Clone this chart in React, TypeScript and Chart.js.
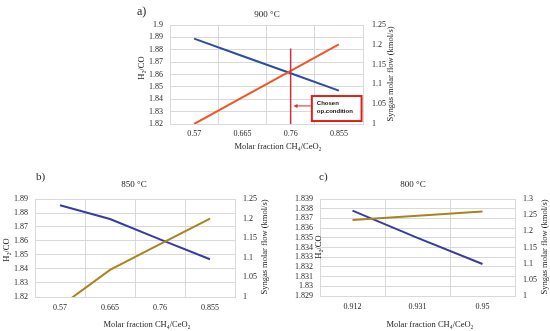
import { useEffect, useRef } from "react";
import { Chart, registerables } from "chart.js";

Chart.register(...registerables);

// ---------- data ----------
const X_A = ["0.57", "0.665", "0.76", "0.855"];
const H2CO_A = [1.889, 1.875, 1.861, 1.847];
const FLOW_A = [1.0, 1.067, 1.134, 1.201];
const LEFT_TICKS_A = [1.82, 1.83, 1.84, 1.85, 1.86, 1.87, 1.88, 1.89, 1.9];
const RIGHT_TICKS_A = [1, 1.05, 1.1, 1.15, 1.2, 1.25];
const CHOSEN_X = "0.76";
const CHOSEN_LINE_Y = [1.82, 1.881];

const X_B = ["0.57", "0.665", "0.76", "0.855"];
const H2CO_B = [1.8855, 1.8757, 1.8612, 1.847];
const FLOW_B = [0.976, 1.069, 1.135, 1.2];
const LEFT_TICKS_B = [1.82, 1.83, 1.84, 1.85, 1.86, 1.87, 1.88, 1.89];
const RIGHT_TICKS_B = [1, 1.05, 1.1, 1.15, 1.2, 1.25];

const X_C = ["0.912", "0.931", "0.95"];
const H2CO_C = [1.8378, 1.835, 1.8323];
const FLOW_C = [1.235, 1.248, 1.261];
const LEFT_TICKS_C = [1.829, 1.83, 1.831, 1.832, 1.833, 1.834, 1.835, 1.836, 1.837, 1.838, 1.839];
const RIGHT_TICKS_C = [1, 1.05, 1.1, 1.15, 1.2, 1.25, 1.3];

const TITLE_A = "900 °C";
const TITLE_B = "850 °C";
const TITLE_C = "800 °C";
const Y_TITLE = "H₂/CO";
const Y2_TITLE = "Syngas molar flow (kmol/s)";
const X_TITLE = "Molar fraction CH₄/CeO₂";
const NOTE_LINES = ["Chosen", "op.condition"];

// ---------- styling ----------
const SERIF = '"Liberation Serif", "Times New Roman", serif';
const SANS = '"Liberation Sans", Arial, sans-serif';
const GRID = "#d9d9d9";
const TEXT = "#262626";

type Panel = {
  id: string;
  left: number;
  top: number;
  w: number;
  h: number;
  area: { left: number; right: number; top: number; bottom: number };
  labels: string[];
  h2co: number[];
  flow: number[];
  leftTicks: number[];
  rightTicks: number[];
  blue: string;
  orange: string;
  letter: string;
  letterPos: [number, number, number];
  title: string;
  titlePos: [number, number];
  yTitlePos: [number, number];
  y2TitlePos: [number, number];
  xTitlePos: [number, number];
  xPad: number;
  rPad: number;
  chosen?: boolean;
};

const PANELS: Panel[] = [
  {
    id: "a",
    left: 130,
    top: 0,
    w: 290,
    h: 160,
    area: { left: 40, right: 233, top: 25, bottom: 124 },
    labels: X_A,
    h2co: H2CO_A,
    flow: FLOW_A,
    leftTicks: LEFT_TICKS_A,
    rightTicks: RIGHT_TICKS_A,
    blue: "#2b4ea3",
    orange: "#f2542a",
    letter: "a)",
    letterPos: [7, 12, 12],
    title: TITLE_A,
    titlePos: [137, 15],
    yTitlePos: [12, 68],
    y2TitlePos: [261, 74],
    xTitlePos: [148, 147],
    xPad: 5,
    rPad: 9,
    chosen: true,
  },
  {
    id: "b",
    left: 0,
    top: 170,
    w: 275,
    h: 161,
    area: { left: 35, right: 235, top: 29, bottom: 127 },
    labels: X_B,
    h2co: H2CO_B,
    flow: FLOW_B,
    leftTicks: LEFT_TICKS_B,
    rightTicks: RIGHT_TICKS_B,
    blue: "#3a3aa6",
    orange: "#a8841e",
    letter: "b)",
    letterPos: [36, 7, 11],
    title: TITLE_B,
    titlePos: [134, 15],
    yTitlePos: [7, 80],
    y2TitlePos: [265, 77],
    xTitlePos: [147, 155],
    xPad: 6,
    rPad: 8,
  },
  {
    id: "c",
    left: 275,
    top: 170,
    w: 275,
    h: 161,
    area: { left: 45, right: 240, top: 29, bottom: 126 },
    labels: X_C,
    h2co: H2CO_C,
    flow: FLOW_C,
    leftTicks: LEFT_TICKS_C,
    rightTicks: RIGHT_TICKS_C,
    blue: "#3a3aa6",
    orange: "#a8841e",
    letter: "c)",
    letterPos: [44, 7, 11],
    title: TITLE_C,
    titlePos: [138, 15],
    yTitlePos: [44, 77],
    y2TitlePos: [270, 77],
    xTitlePos: [155, 155],
    xPad: 6,
    rPad: 8,
  },
];

// annotation anchor (category index / left-axis value)
const NOTE_BOX = { x0: 2.44, x1: 3.47, y0: 1.8426, y1: 1.8224 };
const NOTE_ARROW = { from: 2.44, to: 2.06, y: 1.8346 };

const fmt = (v: number) => String(Number(Number(v).toFixed(4)));

function PanelChart({ p }: { p: Panel }) {
  const ref = useRef<HTMLCanvasElement | null>(null);
  useEffect(() => {
    if (!ref.current) return;
    const textPlugin = {
      id: "panelText" + p.id,
      afterDraw(chart: any) {
        const ctx = chart.ctx as CanvasRenderingContext2D;
        ctx.save();
        ctx.fillStyle = TEXT;
        ctx.textBaseline = "middle";
        // letter
        ctx.font = `${p.letterPos[2]}px ${SERIF}`;
        ctx.textAlign = "left";
        ctx.fillText(p.letter, p.letterPos[0], p.letterPos[1]);
        // title
        ctx.font = `9px ${SERIF}`;
        ctx.textAlign = "center";
        ctx.fillText(p.title, p.titlePos[0], p.titlePos[1]);
        // x title
        ctx.font = `8.5px ${SERIF}`;
        ctx.fillText(X_TITLE, p.xTitlePos[0], p.xTitlePos[1]);
        // y title
        ctx.save();
        ctx.translate(p.yTitlePos[0], p.yTitlePos[1]);
        ctx.rotate(-Math.PI / 2);
        ctx.fillText(Y_TITLE, 0, 0);
        ctx.restore();
        // y2 title
        ctx.save();
        ctx.translate(p.y2TitlePos[0], p.y2TitlePos[1]);
        ctx.rotate(-Math.PI / 2);
        ctx.fillText(Y2_TITLE, 0, 0);
        ctx.restore();

        if (p.chosen) {
          const xs = chart.scales.x;
          const ys = chart.scales.y;
          const bx0 = xs.getPixelForValue(NOTE_BOX.x0);
          const bx1 = xs.getPixelForValue(NOTE_BOX.x1);
          const by0 = ys.getPixelForValue(NOTE_BOX.y0);
          const by1 = ys.getPixelForValue(NOTE_BOX.y1);
          ctx.fillStyle = "#ffffff";
          ctx.fillRect(bx0, by0, bx1 - bx0, by1 - by0);
          ctx.strokeStyle = "#e0201b";
          ctx.lineWidth = 2;
          ctx.strokeRect(bx0, by0, bx1 - bx0, by1 - by0);
          ctx.fillStyle = "#111";
          ctx.font = `bold 6px ${SANS}`;
          ctx.textAlign = "left";
          ctx.fillText(NOTE_LINES[0], bx0 + 5, by0 + 7);
          ctx.fillText(NOTE_LINES[1], bx0 + 5, by0 + 15);
          // arrow
          const ax0 = xs.getPixelForValue(NOTE_ARROW.from);
          const ax1 = xs.getPixelForValue(NOTE_ARROW.to);
          const ay = ys.getPixelForValue(NOTE_ARROW.y);
          ctx.strokeStyle = "#d8262a";
          ctx.lineWidth = 1;
          ctx.beginPath();
          ctx.moveTo(ax0 - 1, ay);
          ctx.lineTo(ax1 + 3, ay);
          ctx.stroke();
          ctx.fillStyle = "#d8262a";
          ctx.beginPath();
          ctx.moveTo(ax1, ay);
          ctx.lineTo(ax1 + 4, ay - 2);
          ctx.lineTo(ax1 + 4, ay + 2);
          ctx.closePath();
          ctx.fill();
        }
        ctx.restore();
      },
    };

    const tickFont = { family: SERIF, size: 8 };
    const datasets: any[] = [];
    if (p.chosen) {
      datasets.push({
        data: CHOSEN_LINE_Y.map((y) => ({ x: CHOSEN_X, y })),
        borderColor: "#c8323c",
        borderWidth: 1.5,
        pointRadius: 0,
        yAxisID: "y",
      });
    }
    datasets.push({
      data: p.flow,
      borderColor: p.orange,
      borderWidth: 2,
      pointRadius: 0,
      yAxisID: "y1",
    });
    datasets.push({
      data: p.h2co,
      borderColor: p.blue,
      borderWidth: 2,
      pointRadius: 0,
      yAxisID: "y",
    });

    const lmin = p.leftTicks[0];
    const lmax = p.leftTicks[p.leftTicks.length - 1];
    const rmin = p.rightTicks[0];
    const rmax = p.rightTicks[p.rightTicks.length - 1];

    const chart = new Chart(ref.current, {
      type: "line",
      data: { labels: p.labels, datasets },
      plugins: [textPlugin],
      options: {
        responsive: false,
        animation: false,
        devicePixelRatio: 1,
        layout: { padding: { top: p.area.top, left: 0, right: 0, bottom: 0 } },
        plugins: { legend: { display: false }, tooltip: { enabled: false }, title: { display: false } },
        elements: { line: { tension: 0 } },
        scales: {
          x: {
            type: "category",
            offset: true,
            grid: { color: GRID, offset: true, drawTicks: false },
            border: { color: GRID },
            ticks: { font: tickFont, color: TEXT, padding: p.xPad, maxRotation: 0, autoSkip: false },
            afterFit: (s: any) => {
              s.height = p.h - p.area.bottom;
            },
          },
          y: {
            type: "linear",
            position: "left",
            min: lmin,
            max: lmax,
            afterBuildTicks: (s: any) => {
              s.ticks = p.leftTicks.map((v) => ({ value: v }));
            },
            grid: { color: GRID, drawTicks: false },
            border: { color: GRID },
            ticks: { font: tickFont, color: TEXT, padding: 7, autoSkip: false, callback: (v: any) => fmt(v) },
            afterFit: (s: any) => {
              s.width = p.area.left;
            },
          },
          y1: {
            type: "linear",
            position: "right",
            min: rmin,
            max: rmax,
            afterBuildTicks: (s: any) => {
              s.ticks = p.rightTicks.map((v) => ({ value: v }));
            },
            grid: { drawOnChartArea: false, drawTicks: false },
            border: { display: false },
            ticks: { font: tickFont, color: TEXT, padding: p.rPad, autoSkip: false, callback: (v: any) => fmt(v) },
            afterFit: (s: any) => {
              s.width = p.w - p.area.right;
            },
          },
        },
      } as any,
    });
    return () => chart.destroy();
  }, [p]);
  return (
    <canvas
      ref={ref}
      width={p.w}
      height={p.h}
      style={{ position: "absolute", left: p.left, top: p.top, width: p.w, height: p.h }}
    />
  );
}

export default function App() {
  return (
    <div
      style={{
        position: "fixed",
        left: 0,
        top: 0,
        width: 550,
        height: 331,
        background: "#ffffff",
        overflow: "hidden",
      }}
    >
      {PANELS.map((p) => (
        <PanelChart key={p.id} p={p} />
      ))}
    </div>
  );
}
